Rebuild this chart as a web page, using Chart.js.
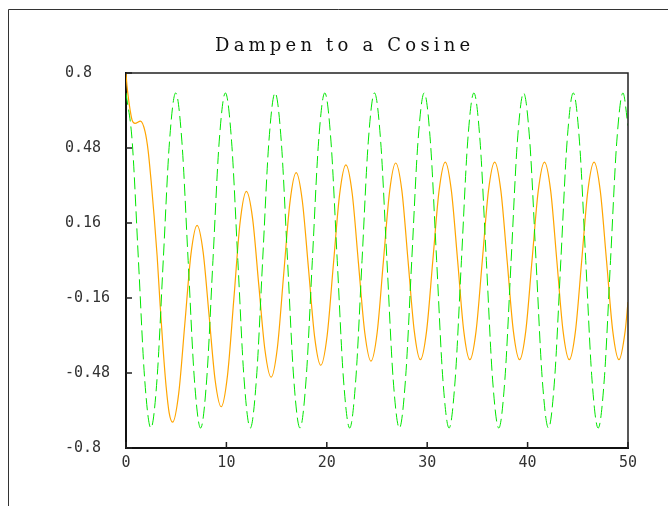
<!DOCTYPE html>
<html lang="en">
<head>
<meta charset="UTF-8">
<title>Dampen to a Cosine</title>
<script src="https://cdn.jsdelivr.net/npm/chart.js"></script>
<style>
  body { margin: 0; background: #fff; }
  canvas { display: block; }
</style>
</head>
<body>
<canvas id="chart" width="668" height="506"></canvas>
<script>
  const chartTitle = 'Dampen to a Cosine';
  const xTicks = [0, 10, 20, 30, 40, 50];
  const yTicks = [-0.8, -0.48, -0.16, 0.16, 0.48, 0.8];
  const yTickLabels = ['-0.8', '-0.48', '-0.16', '0.16', '0.48', '0.8'];

  // green dashed cosine
  const cosX = [0, 0.62, 1.24, 1.86, 2.48, 3.09, 3.71, 4.33, 4.95, 5.57, 6.19, 6.81, 7.43, 8.04, 8.66, 9.28,
    9.9, 10.52, 11.14, 11.76, 12.38, 12.99, 13.61, 14.23, 14.85, 15.47, 16.09, 16.71, 17.33, 17.94, 18.56, 19.18,
    19.8, 20.42, 21.04, 21.66, 22.28, 22.89, 23.51, 24.13, 24.75, 25.37, 25.99, 26.61, 27.23, 27.84, 28.46, 29.08,
    29.7, 30.32, 30.94, 31.56, 32.18, 32.79, 33.41, 34.03, 34.65, 35.27, 35.89, 36.51, 37.13, 37.74, 38.36, 38.98,
    39.6, 40.22, 40.84, 41.46, 42.08, 42.69, 43.31, 43.93, 44.55, 45.17, 45.79, 46.41, 47.03, 47.64, 48.26, 48.88,
    49.5, 50];
  const cosY = [0.715, 0.506, 0, -0.506, -0.715, -0.506, 0, 0.506, 0.715, 0.506, 0, -0.506, -0.715, -0.506, 0, 0.506,
    0.715, 0.506, 0, -0.506, -0.715, -0.506, 0, 0.506, 0.715, 0.506, 0, -0.506, -0.715, -0.506, 0, 0.506,
    0.715, 0.506, 0, -0.506, -0.715, -0.506, 0, 0.506, 0.715, 0.506, 0, -0.506, -0.715, -0.506, 0, 0.506,
    0.715, 0.506, 0, -0.506, -0.715, -0.506, 0, 0.506, 0.715, 0.506, 0, -0.506, -0.715, -0.506, 0, 0.506,
    0.715, 0.506, 0, -0.506, -0.715, -0.506, 0, 0.506, 0.715, 0.506, 0, -0.506, -0.715, -0.506, 0, 0.506,
    0.715, 0.575];

  // orange damped curve
  const dampX = [0, 0.1, 0.25, 0.4, 0.6, 0.9, 1.45, 1.9, 2.2, 2.5, 2.8, 3.1, 3.4, 3.7, 4.0, 4.3, 4.64,
    5.25, 5.86, 6.47, 7.08, 7.68, 8.28, 8.88, 9.48, 10.11, 10.74, 11.36, 11.99,
    12.61, 13.22, 13.84, 14.45, 15.08, 15.7, 16.33, 16.95, 17.56, 18.18, 18.79, 19.4,
    20.03, 20.65, 21.28, 21.9, 22.53, 23.15, 23.78, 24.4, 25.02, 25.63, 26.25, 26.86,
    27.48, 28.09, 28.71, 29.32, 29.94, 30.56, 31.18, 31.8, 32.41, 33.03, 33.64, 34.25,
    34.87, 35.49, 36.1, 36.72, 37.34, 37.96, 38.58, 39.2, 39.82, 40.44, 41.06, 41.68,
    42.3, 42.91, 43.53, 44.15, 44.77, 45.39, 46.0, 46.62, 47.24, 47.86, 48.48, 49.1,
    49.72, 50];
  const dampY = [0.8, 0.745, 0.69, 0.645, 0.6, 0.585, 0.595, 0.55, 0.47, 0.34, 0.19, 0.02, -0.19, -0.38, -0.54, -0.65, -0.69,
    -0.567, -0.27, 0.027, 0.15, 0.037, -0.237, -0.511, -0.624, -0.49, -0.165, 0.161, 0.295,
    0.179, -0.102, -0.382, -0.498, -0.371, -0.062, 0.248, 0.375, 0.255, -0.036, -0.327, -0.447,
    -0.322, -0.02, 0.283, 0.408, 0.286, -0.01, -0.307, -0.429, -0.306, -0.007, 0.293, 0.416,
    0.297, 0, -0.3, -0.423, -0.3, 0, 0.297, 0.42, 0.297, 0, -0.3, -0.423,
    -0.3, 0, 0.297, 0.42, 0.297, 0, -0.3, -0.423, -0.3, 0, 0.297, 0.42,
    0.297, 0, -0.3, -0.423, -0.3, 0, 0.297, 0.42, 0.297, 0, -0.3, -0.423,
    -0.3, -0.177];

  const toPoints = (xs, ys) => xs.map((x, i) => ({ x: x, y: ys[i] }));
  const tickFont = { family: 'DejaVu Sans Mono', size: 15 };

  // outer frame, top/right of the box, inward tick marks and the title
  const decor = {
    id: 'decor',
    afterDraw(chart) {
      const ctx = chart.ctx;
      const a = chart.chartArea;
      const sx = chart.scales.x, sy = chart.scales.y;
      ctx.save();
      ctx.strokeStyle = '#333';
      ctx.lineWidth = 1;
      ctx.beginPath();
      ctx.moveTo(8.5, 506); ctx.lineTo(8.5, 9.5); ctx.lineTo(668, 9.5);
      ctx.stroke();

      ctx.strokeStyle = '#222';
      ctx.lineWidth = 1.5;
      ctx.beginPath();
      ctx.moveTo(a.left, a.top); ctx.lineTo(a.right, a.top); ctx.lineTo(a.right, a.bottom);
      ctx.stroke();

      ctx.beginPath();
      yTicks.forEach(v => { const py = sy.getPixelForValue(v); ctx.moveTo(a.left, py); ctx.lineTo(a.left + 6, py); });
      xTicks.forEach(v => { const px = sx.getPixelForValue(v); ctx.moveTo(px, a.bottom); ctx.lineTo(px, a.bottom - 6); });
      ctx.stroke();

      ctx.fillStyle = '#111';
      ctx.font = '18px "DejaVu Serif"';
      ctx.letterSpacing = '4.2px';
      ctx.textAlign = 'left';
      ctx.textBaseline = 'alphabetic';
      ctx.fillText(chartTitle, 215, 51);
      ctx.restore();
    }
  };

  new Chart(document.getElementById('chart'), {
    type: 'line',
    data: {
      datasets: [{
        label: 'cosine',
        data: toPoints(cosX, cosY),
        borderColor: '#00e600',
        borderWidth: 1,
        borderDash: [12, 5],
        pointRadius: 0,
        cubicInterpolationMode: 'monotone',
        fill: false
      }, {
        label: 'damped',
        data: toPoints(dampX, dampY),
        borderColor: '#ffa500',
        borderWidth: 1.2,
        pointRadius: 0,
        cubicInterpolationMode: 'monotone',
        fill: false
      }]
    },
    options: {
      responsive: false,
      animation: false,
      layout: { padding: { left: 65, right: 40, top: 73, bottom: 0 } },
      plugins: { legend: { display: false }, tooltip: { enabled: false }, title: { display: false } },
      scales: {
        x: {
          type: 'linear', min: 0, max: 50,
          afterBuildTicks: s => { s.ticks = xTicks.map(v => ({ value: v })); },
          afterFit: s => { s.height = 58; },
          grid: { display: false },
          border: { display: true, color: '#111', width: 2 },
          ticks: { padding: -2, color: '#333', font: tickFont, maxRotation: 0 }
        },
        y: {
          type: 'linear', min: -0.8, max: 0.8,
          afterBuildTicks: s => { s.ticks = yTicks.map(v => ({ value: v })); },
          afterFit: s => { s.width = 61; },
          grid: { display: false },
          border: { display: true, color: '#111', width: 2 },
          ticks: { crossAlign: 'far', color: '#333', font: tickFont, callback: (v, i) => yTickLabels[i] }
        }
      }
    },
    plugins: [decor]
  });
</script>
</body>
</html>
